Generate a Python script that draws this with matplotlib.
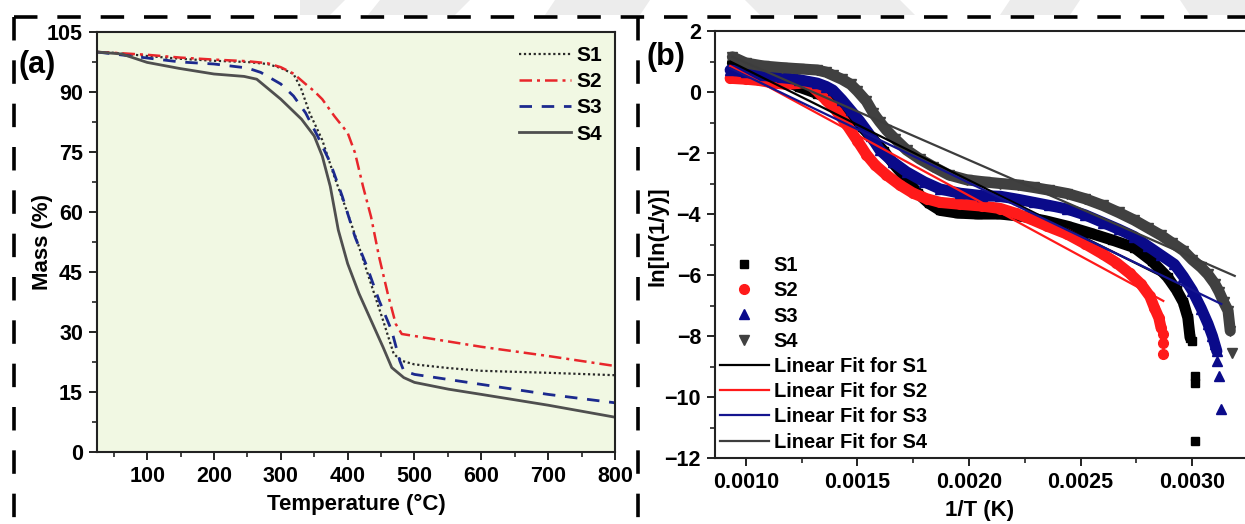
import matplotlib
matplotlib.use("Agg")
import matplotlib.pyplot as plt
from matplotlib.ticker import MultipleLocator
from matplotlib.lines import Line2D
from matplotlib.patches import Polygon

plt.rcParams['font.family'] = ['Liberation Sans', 'DejaVu Sans']
plt.rcParams['font.weight'] = 'bold'
plt.rcParams['axes.labelweight'] = 'bold'

# ---------------- (a) TGA curves ----------------
temp_s1 = [25, 50, 100, 150, 200, 250, 280, 300, 319, 330, 343, 362, 380, 400,
           417, 435, 453, 469, 481, 500, 550, 600, 700, 800]
mass_s1 = [100, 99.8, 99.0, 98.3, 97.8, 97.5, 97.0, 96.0, 94.5, 91.0, 84.8, 78.0,
           68.9, 59.7, 51.3, 42.0, 32.9, 24.5, 22.8, 21.9, 21.0, 20.3, 19.8, 19.2]

temp_s2 = [25, 50, 100, 150, 200, 250, 280, 300, 319, 337, 350, 362, 380, 400,
           411, 423, 435, 447, 460, 472, 481, 500, 600, 700, 800]
mass_s2 = [100, 99.8, 99.3, 98.6, 98.1, 97.7, 97.2, 96.2, 94.6, 92.0, 90.2, 88.2,
           84.0, 79.8, 74.8, 66.4, 58.8, 48.8, 39.6, 32.0, 29.5, 29.0, 26.3, 24.0, 21.5]

temp_s3 = [25, 50, 100, 150, 200, 250, 270, 300, 319, 337, 355, 374, 392, 411,
           429, 447, 466, 478, 484, 500, 600, 700, 800]
mass_s3 = [100, 99.5, 98.5, 97.5, 97.0, 96.0, 94.9, 92.0, 89.0, 84.8, 79.0, 72.3,
           63.9, 53.8, 46.3, 37.9, 30.3, 22.8, 20.3, 19.4, 16.9, 14.4, 12.3]

temp_s4 = [25, 62, 100, 148, 200, 245, 264, 300, 331, 350, 362, 374, 386, 400,
           417, 435, 453, 466, 484, 500, 551, 600, 700, 800]
mass_s4 = [100, 99.5, 97.4, 95.9, 94.5, 93.9, 93.2, 88.2, 83.2, 79.0, 74.0, 66.4,
           55.5, 47.1, 39.6, 32.9, 26.2, 21.1, 18.6, 17.4, 15.7, 14.4, 11.7, 8.7]

# ---------------- (b) kinetic plot ----------------
inv_t_s1 = [0.00094, 0.00105, 0.00115, 0.00124, 0.00132, 0.00140, 0.00147, 0.00152,
            0.00157, 0.00162, 0.00166, 0.00172, 0.00177, 0.00182, 0.00187, 0.00195,
            0.00204, 0.00214, 0.00224, 0.00234, 0.00244, 0.00254, 0.00264, 0.00274,
            0.00282, 0.00289, 0.00293, 0.00296, 0.00298, 0.00299]
lnln_s1 = [0.95, 0.70, 0.45, 0.16, -0.05, -0.30, -0.70, -1.15, -1.55, -1.95, -2.34,
           -2.85, -3.32, -3.65, -3.88, -3.97, -4.00, -4.00, -4.08, -4.22, -4.40, -4.62,
           -4.85, -5.10, -5.55, -6.08, -6.50, -6.90, -7.40, -8.05]
tail_x_s1 = [0.00300, 0.00301, 0.00301, 0.00301]
tail_y_s1 = [-8.15, -9.30, -9.55, -11.44]

inv_t_s2 = [0.00093, 0.00100, 0.00106, 0.00112, 0.00118, 0.00123, 0.00127, 0.00131,
            0.00136, 0.00141, 0.00145, 0.00150, 0.00154, 0.00158, 0.00163, 0.00169,
            0.00175, 0.00181, 0.00187, 0.00196, 0.00206, 0.00214, 0.00221, 0.00228,
            0.00235, 0.00244, 0.00252, 0.00260, 0.00266, 0.00272, 0.00277, 0.00281,
            0.00283, 0.00285, 0.00286]
lnln_s2 = [0.45, 0.42, 0.38, 0.30, 0.25, 0.28, 0.32, 0.10, -0.27, -0.65, -1.05, -1.60,
           -2.05, -2.40, -2.72, -3.05, -3.32, -3.50, -3.62, -3.68, -3.74, -3.82, -3.98,
           -4.18, -4.40, -4.66, -4.98, -5.32, -5.60, -5.95, -6.30, -6.70, -7.07, -7.40,
           -7.73]
tail_x_s2 = [0.00287, 0.00287, 0.00287]
tail_y_s2 = [-7.95, -8.22, -8.60]

inv_t_s3 = [0.00093, 0.00100, 0.00108, 0.00116, 0.00124, 0.00132, 0.00136, 0.00139,
            0.00143, 0.00147, 0.00151, 0.00156, 0.00160, 0.00166, 0.00172, 0.00180,
            0.00187, 0.00196, 0.00206, 0.00214, 0.00222, 0.00229, 0.00236, 0.00244,
            0.00252, 0.00260, 0.00267, 0.00274, 0.00280, 0.00286, 0.00292, 0.00296,
            0.00300, 0.00304, 0.00307, 0.00309, 0.00310, 0.00311]
lnln_s3 = [0.72, 0.65, 0.55, 0.48, 0.40, 0.29, 0.18, 0.06, -0.25, -0.60, -0.95, -1.45,
           -1.90, -2.30, -2.62, -2.95, -3.18, -3.32, -3.40, -3.42, -3.52, -3.62, -3.72,
           -3.84, -4.03, -4.28, -4.50, -4.74, -5.05, -5.35, -5.65, -6.05, -6.51, -7.10,
           -7.60, -8.00, -8.25, -8.50]
tail_x_s3 = [0.00311, 0.00312, 0.00313]
tail_y_s3 = [-8.81, -9.30, -10.40]

inv_t_s4 = [0.00094, 0.00100, 0.00108, 0.00116, 0.00124, 0.00132, 0.00136, 0.00139,
            0.00143, 0.00147, 0.00150, 0.00154, 0.00157, 0.00160, 0.00163, 0.00167,
            0.00172, 0.00178, 0.00184, 0.00191, 0.00199, 0.00207, 0.00214, 0.00222,
            0.00229, 0.00236, 0.00244, 0.00252, 0.00260, 0.00267, 0.00274, 0.00280,
            0.00286, 0.00291, 0.00296, 0.00300, 0.00304, 0.00307, 0.00310, 0.00312,
            0.00314, 0.00316, 0.00317]
lnln_s4 = [1.15, 0.95, 0.85, 0.80, 0.76, 0.72, 0.65, 0.55, 0.42, 0.25, 0.03, -0.30,
           -0.68, -0.98, -1.25, -1.55, -1.90, -2.20, -2.45, -2.72, -2.88, -2.95, -3.00,
           -3.05, -3.13, -3.22, -3.33, -3.50, -3.72, -3.95, -4.20, -4.45, -4.70, -4.95,
           -5.20, -5.50, -5.75, -5.98, -6.28, -6.55, -6.88, -7.17, -7.83]
tail_x_s4 = [0.00318]
tail_y_s4 = [-8.55]

# linear fits: end points of each fitted line
fit_x = {'S1': [0.00093, 0.00293], 'S2': [0.00093, 0.00287],
         'S3': [0.00093, 0.00313], 'S4': [0.00094, 0.00319]}
fit_y = {'S1': [1.00, -6.28], 'S2': [0.85, -6.85],
         'S3': [0.78, -6.95], 'S4': [1.15, -6.03]}

W, H = 1245, 524
fig = plt.figure(figsize=(W / 100, H / 100), dpi=100)


def px_rect(l, t, r, b):
    return [l / W, 1 - b / H, (r - l) / W, (b - t) / H]


def px_pt(x, y):
    return (x / W, 1 - y / H)


TICK_FS = 15.5
LABEL_FS = 16

# faint watermark shapes along the top edge
for shape in [[(300, 0), (345, 0), (330, 15), (300, 15)],
              [(380, 0), (470, 0), (455, 15), (368, 15)],
              [(555, 0), (650, 0), (640, 15), (545, 15)],
              [(745, 0), (900, 0), (915, 15), (760, 15)],
              [(1010, 0), (1080, 0), (1070, 15), (1000, 15)],
              [(1180, 0), (1245, 0), (1245, 15), (1190, 15)]]:
    fig.add_artist(Polygon([px_pt(*p) for p in shape], closed=True,
                           transform=fig.transFigure, facecolor='#ececec',
                           edgecolor='none', zorder=0))

# ---------------- panel (a) ----------------
ax1 = fig.add_axes(px_rect(97, 32, 615, 452))
ax1.set_facecolor('#F1F8E3')
ax1.plot(temp_s1, mass_s1, color='#2a2a2a', lw=1.6, ls=(0, (1, 1.2)), label='S1')
ax1.plot(temp_s2, mass_s2, color='#E8262B', lw=1.8, ls=(0, (5, 2, 1.2, 2)), label='S2')
ax1.plot(temp_s3, mass_s3, color='#1C2A8E', lw=2.0, ls=(0, (4.5, 3.5)), label='S3')
ax1.plot(temp_s4, mass_s4, color='#4f4f4f', lw=2.0, ls='-', label='S4')
ax1.set_xlim(25, 800)
ax1.set_ylim(0, 105)
ax1.xaxis.set_major_locator(MultipleLocator(100))
ax1.xaxis.set_minor_locator(MultipleLocator(50))
ax1.yaxis.set_major_locator(MultipleLocator(15))
ax1.yaxis.set_minor_locator(MultipleLocator(7.5))
ax1.set_xlabel('Temperature (°C)', fontsize=LABEL_FS, labelpad=5)
ax1.set_ylabel('Mass (%)', fontsize=LABEL_FS)
ax1.yaxis.set_label_coords(-0.085, 0.5)
ax1.legend(loc='upper left', bbox_to_anchor=(0.815, 0.967), frameon=False,
           fontsize=15, handlelength=2.5, handletextpad=0.25,
           labelspacing=0.35, borderpad=0, borderaxespad=0)

# ---------------- panel (b) ----------------
ax2 = fig.add_axes(px_rect(715, 31, 1245, 458))
series = [
    ('S1', inv_t_s1, lnln_s1, tail_x_s1, tail_y_s1, '#000000', 's', 6.0),
    ('S2', inv_t_s2, lnln_s2, tail_x_s2, tail_y_s2, '#FF1A1A', 'o', 7.0),
    ('S3', inv_t_s3, lnln_s3, tail_x_s3, tail_y_s3, '#0A0A8A', '^', 7.5),
    ('S4', inv_t_s4, lnln_s4, tail_x_s4, tail_y_s4, '#404040', 'v', 7.5),
]
for name, xs, ys, tx, ty, col, mk, ms in series:
    ax2.plot(xs, ys, color=col, lw=8, solid_capstyle='round', solid_joinstyle='round')
    ax2.plot(list(xs) + list(tx), list(ys) + list(ty), ls='none', marker=mk,
             ms=ms, color=col, mec=col, label=name)

fit_colors = {'S1': '#000000', 'S2': '#FF1A1A', 'S3': '#14148F', 'S4': '#3d3d3d'}
for name in ['S1', 'S2', 'S3', 'S4']:
    ax2.plot(fit_x[name], fit_y[name], color=fit_colors[name], lw=1.6,
             label='Linear Fit for ' + name)

ax2.set_xlim(0.000862, 0.003236)
ax2.set_ylim(-12, 2)
ax2.xaxis.set_major_locator(MultipleLocator(0.0005))
ax2.xaxis.set_minor_locator(MultipleLocator(0.00025))
ax2.yaxis.set_major_locator(MultipleLocator(2))
ax2.yaxis.set_minor_locator(MultipleLocator(1))
ax2.xaxis.set_major_formatter(plt.FuncFormatter(lambda v, p: f'{v:.4f}'))
ax2.yaxis.set_major_formatter(plt.FuncFormatter(lambda v, p: f'{int(round(v))}'.replace('-', '\u2212')))
ax2.spines['right'].set_visible(False)
ax2.set_xlabel('1/T (K)', fontsize=LABEL_FS, labelpad=5)
ax2.set_ylabel('ln[ln(1/y)]', fontsize=LABEL_FS)
ax2.yaxis.set_label_coords(-0.087, 0.52)
ax2.legend(loc='upper left', bbox_to_anchor=(0.01, 0.473), frameon=False,
           fontsize=14.5, handlelength=2.4, handletextpad=0.25,
           labelspacing=0.31, borderpad=0, borderaxespad=0)

for ax in (ax1, ax2):
    for sp in ax.spines.values():
        sp.set_linewidth(1.5)
        sp.set_color('#222222')
    ax.tick_params(which='major', direction='out', length=6, width=1.4,
                   labelsize=TICK_FS, pad=4, color='#222222')
    ax.tick_params(which='minor', direction='out', length=3.5, width=1.2,
                   color='#222222')
    for lab in ax.get_xticklabels() + ax.get_yticklabels():
        lab.set_fontweight('bold')

# panel letters
fig.text(19 / W, 1 - 65 / H, '(a)', fontsize=22, fontweight='bold', va='center', ha='left')
fig.text(646 / W, 1 - 57 / H, '(b)', fontsize=22, fontweight='bold', va='center', ha='left')

# dashed frame around the panels
dash = dict(color='black', lw=2.6, ls=(0, (6.5, 5.5)), transform=fig.transFigure)
fig.add_artist(Line2D([14 / W, 1.0], [1 - 17 / H, 1 - 17 / H], **dash))
fig.add_artist(Line2D([14 / W, 14 / W], [1 - 17 / H, 0.0], **dash))
fig.add_artist(Line2D([638 / W, 638 / W], [1 - 17 / H, 0.0], **dash))

fig.savefig('out.png', dpi=100)
